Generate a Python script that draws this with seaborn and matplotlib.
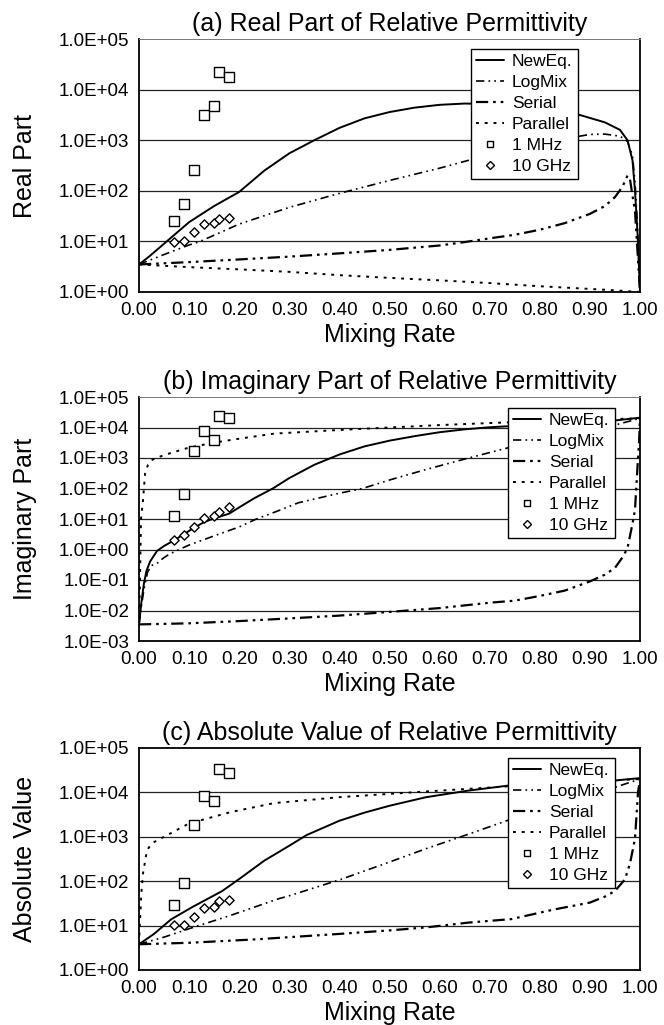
import numpy as np
import pandas as pd
import matplotlib
matplotlib.use("Agg")
import matplotlib.pyplot as plt
from matplotlib.lines import Line2D
from matplotlib.ticker import FuncFormatter, FixedLocator, NullLocator
import seaborn as sns

# ---------------- data ----------------
rates_meas = [0.07, 0.09, 0.11, 0.13, 0.15, 0.16, 0.18]

# (a) real part
a_mhz = [25, 55, 255, 3100, 4800, 22000, 18000]
a_ghz = [9.6, 10, 15, 22, 23.5, 28, 29]
a_new_x = [0, 0.02, 0.05, 0.1, 0.15, 0.2, 0.25, 0.3, 0.35, 0.4, 0.45, 0.5, 0.55, 0.6, 0.65, 0.7,
           0.75, 0.8, 0.85, 0.88, 0.93, 0.96, 0.975, 0.985, 0.99, 0.995, 1.0]
a_new_y = [3.5, 5.0, 9.0, 24, 50, 95, 250, 550, 1000, 1750, 2700, 3600, 4400, 5000, 5300, 5200,
           4700, 4100, 3500, 3150, 2250, 1600, 1000, 400, 100, 15, 1.05]
a_log_x = [0, 0.05, 0.1, 0.12, 0.2, 0.3, 0.4, 0.5, 0.6, 0.7, 0.8, 0.85, 0.9, 0.93, 0.96, 0.975,
           0.985, 0.99, 0.995, 1.0]
a_log_y = [3.5, 5.5, 8.5, 9.8, 22, 47, 89, 160, 280, 520, 850, 1070, 1300, 1320, 1200, 950,
           500, 150, 20, 1.1]
a_ser_x = [0, 0.1, 0.2, 0.3, 0.4, 0.5, 0.6, 0.65, 0.7, 0.75, 0.8, 0.85, 0.9, 0.93, 0.95, 0.965,
           0.975, 0.98, 0.985, 0.99, 1.0]
a_ser_y = [3.5, 3.9, 4.4, 5.0, 5.8, 6.8, 8.3, 9.7, 11.5, 13.5, 17, 23, 35, 50, 75, 120,
           200, 170, 80, 40, 1.0]
a_par_x = [0, 0.1, 0.2, 0.3, 0.4, 0.5, 0.6, 0.7, 0.8, 0.9, 0.95, 0.98, 1.0]
a_par_y = [3.5, 3.1, 2.8, 2.5, 2.15, 1.9, 1.7, 1.5, 1.3, 1.15, 1.08, 1.03, 1.0]

# (b) imaginary part
b_mhz = [13, 68, 1750, 7800, 3900, 24000, 21000]
b_ghz = [2.0, 3.0, 5.5, 10.5, 13, 17, 24]
b_new_x = [0, 0.005, 0.01, 0.015, 0.022, 0.036, 0.05, 0.07, 0.09, 0.11, 0.13, 0.15, 0.18, 0.2,
           0.23, 0.267, 0.3, 0.35, 0.4, 0.45, 0.5, 0.55, 0.6, 0.65, 0.7, 0.8, 0.9, 0.95, 1.0]
b_new_y = [0.0035, 0.02, 0.08, 0.2, 0.4, 0.9, 1.3, 2.0, 3.2, 5.2, 7.9, 10.5, 15, 24,
           48, 100, 220, 600, 1300, 2400, 3700, 5200, 7000, 8700, 10200, 12500, 15000, 17000, 21000]
b_log_x = [0, 0.005, 0.01, 0.017, 0.025, 0.036, 0.047, 0.06, 0.083, 0.1, 0.15, 0.2, 0.233, 0.278,
           0.318, 0.4, 0.446, 0.5, 0.573, 0.658, 0.743, 0.8, 0.9, 0.95, 1.0]
b_log_y = [0.0035, 0.015, 0.05, 0.18, 0.3, 0.35, 0.5, 0.7, 1.05, 1.4, 2.8, 5.5, 9.8, 18.6,
           34, 70, 100, 190, 420, 1000, 2300, 3800, 8000, 12000, 20000]
b_ser_x = [0, 0.1, 0.2, 0.3, 0.4, 0.5, 0.6, 0.7, 0.75, 0.8, 0.85, 0.9, 0.93, 0.95, 0.965, 0.975,
           0.985, 0.99, 0.995, 0.998, 1.0]
b_ser_y = [0.0035, 0.0038, 0.0045, 0.0055, 0.0068, 0.009, 0.012, 0.018, 0.021, 0.03, 0.045, 0.09,
           0.15, 0.25, 0.55, 1.1, 7, 20, 500, 3000, 20000]
b_par_x = [0, 0.002, 0.004, 0.008, 0.012, 0.018, 0.025, 0.035, 0.05, 0.1, 0.15, 0.2, 0.27, 0.4,
           0.5, 0.6, 0.7, 0.8, 0.9, 1.0]
b_par_y = [0.0035, 0.1, 10, 40, 300, 600, 850, 1000, 1250, 2200, 3200, 4300, 6300, 8300,
           10000, 12000, 14000, 16000, 18000, 20000]

# (c) absolute value
c_mhz = [29, 91, 1800, 8500, 6500, 34000, 27500]
c_ghz = [10.4, 10.5, 16, 25, 26, 35, 38]
c_new_x = [0, 0.03, 0.064, 0.106, 0.166, 0.2, 0.25, 0.3, 0.335, 0.4, 0.45, 0.5, 0.573, 0.658,
           0.743, 0.8, 0.9, 0.95, 1.0]
c_new_y = [3.8, 6.5, 13.8, 26, 60, 112, 290, 630, 1100, 2300, 3500, 5000, 7800, 11000,
           14500, 16000, 17500, 18500, 21000]
c_log_x = [0, 0.05, 0.1, 0.183, 0.278, 0.3, 0.403, 0.5, 0.573, 0.658, 0.743, 0.8, 0.9, 0.95, 1.0]
c_log_y = [3.8, 5.5, 8.5, 17, 40, 47, 110, 270, 540, 1150, 2500, 4000, 9000, 13000, 20000]
c_ser_x = [0, 0.1, 0.233, 0.4, 0.5, 0.573, 0.658, 0.743, 0.828, 0.9, 0.93, 0.95, 0.97, 0.98,
           0.99, 0.996, 1.0]
c_ser_y = [3.8, 4.1, 4.9, 6.5, 7.8, 9.1, 11.7, 14, 23, 33, 45, 60, 110, 250,
           900, 10000, 20000]
c_par_x = [0, 0.002, 0.005, 0.008, 0.016, 0.026, 0.05, 0.1, 0.183, 0.27, 0.4, 0.573, 0.743, 0.9, 1.0]
c_par_y = [3.8, 13, 60, 150, 500, 720, 1000, 2000, 3600, 5750, 7800, 10500, 13800, 17500, 20000]

titles = ["(a) Real Part of Relative Permittivity",
          "(b) Imaginary Part of Relative Permittivity",
          "(c) Absolute Value of Relative Permittivity"]
ylabels = ["Real Part", "Imaginary Part", "Absolute Value"]
xlabel = "Mixing Rate"
legend_labels = ["NewEq.", "LogMix", "Serial", "Parallel", "1 MHz", "10 GHz"]
x_ticks = [0.0, 0.1, 0.2, 0.3, 0.4, 0.5, 0.6, 0.7, 0.8, 0.9, 1.0]

# ---------------- styling ----------------
sns.set_style("white")
plt.rcParams["font.family"] = ["Liberation Sans", "DejaVu Sans"]
plt.rcParams["text.color"] = "black"
plt.rcParams["axes.labelcolor"] = "black"
plt.rcParams["xtick.color"] = "black"
plt.rcParams["ytick.color"] = "black"

STY = {
    "new": dict(color="black", lw=1.4, linestyle="-"),
    "log": dict(color="black", lw=1.2, linestyle=(0, (5, 2.5, 1, 2.5, 1, 2.5))),
    "ser": dict(color="black", lw=1.6, linestyle=(0, (5.5, 2.2, 1.2, 2.2, 1.2, 2.2))),
    "par": dict(color="black", lw=1.4, linestyle=(0, (1.5, 3))),
}

fig = plt.figure(figsize=(6.64, 10.25), dpi=100)
H = 1025.0
W = 664.0
left_px, right_px = 139, 640
panels = [(39, 292), (397, 641), (748, 970)]
ylims = [(1, 1e5), (1e-3, 1e5), (1, 1e5)]
leg_pos = [(471, 49), (508, 408), (508, 758)]

series = [
    (a_new_x, a_new_y, a_log_x, a_log_y, a_ser_x, a_ser_y, a_par_x, a_par_y, a_mhz, a_ghz),
    (b_new_x, b_new_y, b_log_x, b_log_y, b_ser_x, b_ser_y, b_par_x, b_par_y, b_mhz, b_ghz),
    (c_new_x, c_new_y, c_log_x, c_log_y, c_ser_x, c_ser_y, c_par_x, c_par_y, c_mhz, c_ghz),
]


def sci_fmt(v, pos):
    return f"{v:.1E}"


for i, (top, bot) in enumerate(panels):
    hpx = bot - top
    wpx = right_px - left_px
    ax = fig.add_axes([left_px / W, 1 - bot / H, wpx / W, hpx / H])
    nx, ny, lx, ly, sx, sy, px, py, mhz, ghz = series[i]
    ax.set_yscale("log")
    lo, hi = ylims[i]
    ax.set_ylim(lo, hi)
    ax.set_xlim(0, 1)
    decades = [10.0 ** k for k in range(int(np.log10(lo)), int(np.log10(hi)) + 1)]
    for d in decades[1:-1]:
        ax.axhline(d, color="#222222", lw=0.9, zorder=0)

    for (xx, yy, key) in [(nx, ny, "new"), (lx, ly, "log"), (sx, sy, "ser"), (px, py, "par")]:
        df = pd.DataFrame({"x": xx, "y": yy})
        sns.lineplot(data=df, x="x", y="y", ax=ax, sort=False, estimator=None, **STY[key])

    dm = pd.DataFrame({"x": rates_meas, "y": mhz})
    sns.scatterplot(data=dm, x="x", y="y", ax=ax, marker="s", s=42, color="white",
                    edgecolor="black", linewidth=1.0, zorder=5)
    dg = pd.DataFrame({"x": rates_meas, "y": ghz})
    sns.scatterplot(data=dg, x="x", y="y", ax=ax, marker="D", s=22, color="white",
                    edgecolor="black", linewidth=1.0, zorder=5)

    ax.yaxis.set_major_locator(FixedLocator(decades))
    ax.yaxis.set_minor_locator(NullLocator())
    ax.yaxis.set_major_formatter(FuncFormatter(sci_fmt))
    ax.set_xticks(x_ticks)
    ax.set_xticklabels([f"{t:.2f}" for t in x_ticks])
    ax.tick_params(axis="x", direction="in", length=3, width=0.8, labelsize=13.5, pad=7,
                   colors="black")
    ax.tick_params(axis="y", direction="in", length=0, labelsize=13.5, pad=7, colors="black")
    ax.set_xlabel(xlabel, fontsize=18, va="top", color="black")
    ax.xaxis.set_label_coords(0.5, -31.0 / hpx)
    ax.set_ylabel(ylabels[i], fontsize=18, va="bottom", color="black")
    ax.yaxis.set_label_coords(-102.0 / wpx, 0.5)
    ax.set_title(titles[i], fontsize=18, pad=6, color="black")

    for side in ["left", "bottom", "right"]:
        ax.spines[side].set_color("black")
        ax.spines[side].set_linewidth(1.3)
    if i < 2:
        ax.spines["top"].set_color("#777777")
        ax.spines["top"].set_linewidth(0.7)
    else:
        ax.spines["top"].set_color("black")
        ax.spines["top"].set_linewidth(1.3)

    handles = [
        Line2D([], [], **STY["new"]),
        Line2D([], [], **STY["log"]),
        Line2D([], [], **STY["ser"]),
        Line2D([], [], **STY["par"]),
        Line2D([], [], marker="s", linestyle="none", markerfacecolor="white",
               markeredgecolor="black", markersize=5),
        Line2D([], [], marker="D", linestyle="none", markerfacecolor="white",
               markeredgecolor="black", markersize=4),
    ]
    lxp, lyp = leg_pos[i]
    ax_x = (lxp - left_px) / wpx
    ax_y = 1 - (lyp - top) / hpx
    leg = ax.legend(handles, legend_labels, loc="upper left", bbox_to_anchor=(ax_x, ax_y),
                    frameon=True, fancybox=False, edgecolor="black", framealpha=1,
                    fontsize=12.5, handlelength=1.6, handletextpad=0.45, labelspacing=0.33,
                    borderpad=0.3, borderaxespad=0)
    leg.get_frame().set_linewidth(1.0)
    for t in leg.get_texts():
        t.set_color("black")

fig.savefig("out.png", dpi=100)
